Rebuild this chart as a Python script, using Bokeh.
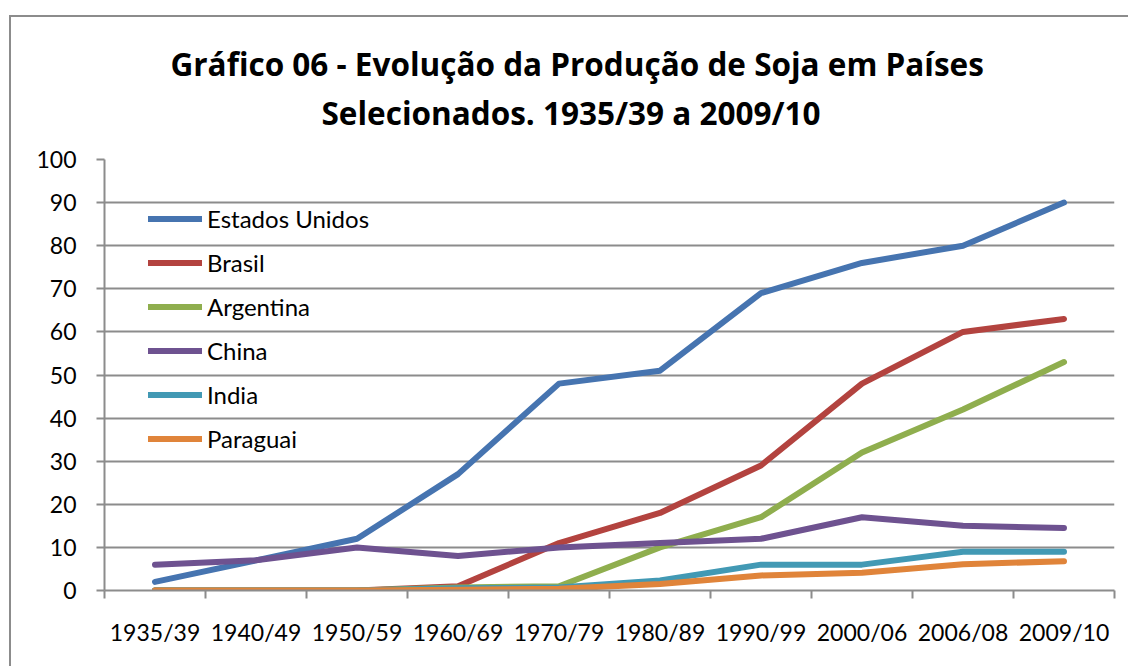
from bokeh.plotting import figure
from bokeh.models import (Range1d, FixedTicker, SingleIntervalTicker, Legend, LegendItem, Title,
                          ColumnDataSource)
from bokeh.embed import file_html
from bokeh.resources import INLINE

periodos = ["1935/39", "1940/49", "1950/59", "1960/69", "1970/79",
            "1980/89", "1990/99", "2000/06", "2006/08", "2009/10"]
estados_unidos = [2, 7, 12, 27, 48, 51, 69, 76, 80, 90]
brasil = [0, 0, 0, 1, 11, 18, 29, 48, 60, 63]
argentina = [0, 0, 0, 0.7, 1, 10, 17, 32, 42, 53]
china = [6, 7, 10, 8, 10, 11, 12, 17, 15, 14.5]
india = [0, 0, 0, 0.5, 0.7, 2.3, 6, 6, 9, 9]
paraguai = [0, 0, 0, 0.2, 0.4, 1.5, 3.5, 4.1, 6.1, 6.8]

series = [
    ("Estados Unidos", estados_unidos, "#4674B0"),
    ("Brasil", brasil, "#B3433F"),
    ("Argentina", argentina, "#8FAE4E"),
    ("China", china, "#6E5290"),
    ("India", india, "#4299B4"),
    ("Paraguai", paraguai, "#E0843A"),
]

titulo_1 = "Gráfico 06 - Evolução da Produção de Soja em Países"
titulo_2 = "Selecionados. 1935/39 a 2009/10"

FONT = "Lato"
TFONT = "Open Sans"
GRAY = "#8c8c8c"

xs = [i + 0.5 for i in range(len(periodos))]

p = figure(width=1119, height=651, output_backend="svg", toolbar_location=None,
           x_range=Range1d(0, len(periodos)), y_range=Range1d(0, 100),
           min_border_left=93, min_border_right=16, min_border_top=142, min_border_bottom=78,
           title=None)
# outer chart border (top and left edges fall inside the window)
p.styles = {"margin-left": "9px", "margin-top": "15px",
            "border-top": "2px solid #8c8c8c", "border-left": "2px solid #8c8c8c"}

p.outline_line_color = None
p.xgrid.visible = False
p.ygrid.ticker = SingleIntervalTicker(interval=10)
p.ygrid.grid_line_color = GRAY
p.ygrid.grid_line_width = 2

# x axis: labels at category centres, ticks at boundaries
xa = p.xaxis[0]
xa.ticker = FixedTicker(ticks=xs, minor_ticks=list(range(len(periodos) + 1)))
xa.major_label_overrides = {x: lab for x, lab in zip(xs, periodos)}
xa.major_tick_line_color = None
xa.minor_tick_in = 0
xa.minor_tick_out = 8
xa.minor_tick_line_color = GRAY
xa.minor_tick_line_width = 2
xa.axis_line_color = GRAY
xa.axis_line_width = 2
xa.major_label_standoff = 19
xa.major_label_text_font = FONT
xa.major_label_text_font_size = "23px"
xa.major_label_text_color = "#000000"

ya = p.yaxis[0]
ya.ticker = SingleIntervalTicker(interval=10)
ya.minor_tick_line_color = None
ya.major_tick_in = 0
ya.major_tick_out = 8
ya.major_tick_line_color = GRAY
ya.major_tick_line_width = 2
ya.axis_line_color = GRAY
ya.axis_line_width = 2
ya.major_label_standoff = 20
ya.major_label_text_font = FONT
ya.major_label_text_font_size = "23px"
ya.major_label_text_color = "#000000"

items = []
for name, vals, col in series:
    src = ColumnDataSource(dict(x=xs, y=vals))
    r = p.line("x", "y", source=src, line_color=col, line_width=6,
               line_cap="round", line_join="round")
    items.append(LegendItem(label=name, renderers=[r]))

legend = Legend(items=items, location=(44, 137), background_fill_alpha=0,
                border_line_color=None, padding=0, margin=0, spacing=15,
                glyph_width=54, glyph_height=29, label_height=29, label_standoff=5,
                label_text_font=FONT, label_text_font_size="24px", label_text_color="#000000")
p.add_layout(legend, "center")

# titles: spacer closest to the frame, then line 2, then line 1
spacer = Title(text=" ", text_font_size="10px", standoff=13)
t2 = Title(text=titulo_2, align="left", offset=217, text_font=TFONT, text_font_size="31.5px",
           text_font_style="bold", text_color="#000000", standoff=0)
t1 = Title(text=titulo_1, align="left", offset=66, text_font=TFONT, text_font_size="31.5px",
           text_font_style="bold", text_color="#000000", standoff=7)
p.add_layout(spacer, "above")
p.add_layout(t2, "above")
p.add_layout(t1, "above")

open("out.html", "w").write(file_html(p, INLINE))
